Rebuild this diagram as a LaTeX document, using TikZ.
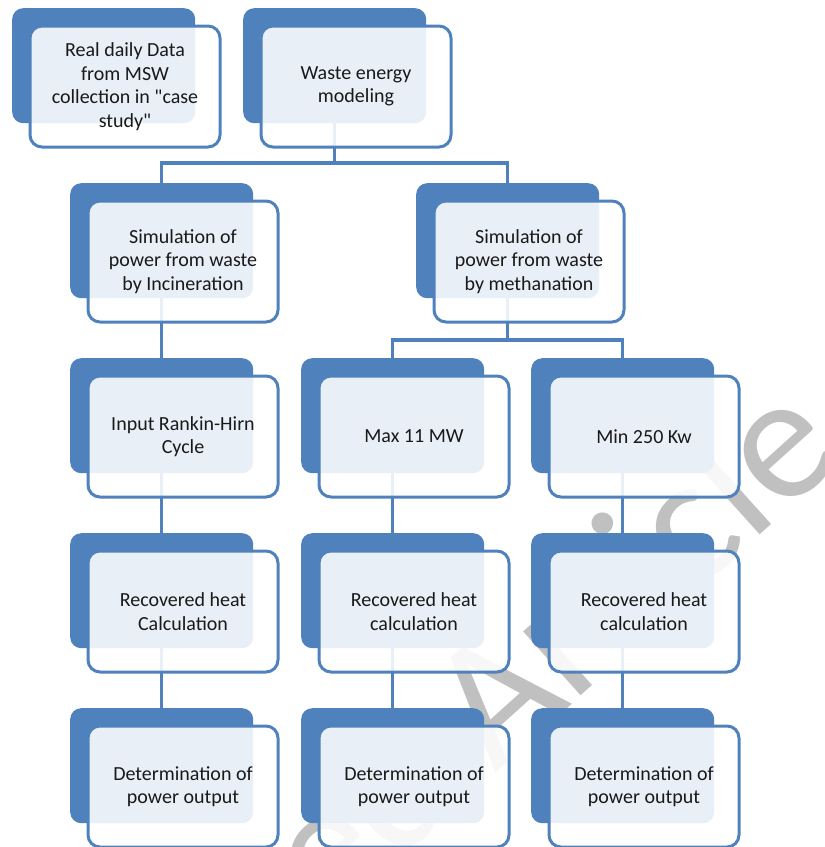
\documentclass[tikz,border=0pt]{standalone}
\usepackage{fontspec}
\setmainfont{Carlito}[Ligatures=TeXOff]
\definecolor{wblue}{HTML}{4F81BD}
\definecolor{wmgray}{HTML}{C0C0C0}
\tikzset{
  backbox/.style={draw=none, fill=wblue, rounded corners=11pt, minimum width=183pt, minimum height=115pt, inner sep=0pt, anchor=north west},
  frontbox/.style={draw=wblue, line width=3pt, fill=white, fill opacity=0.875, text opacity=1, rounded corners=12pt, minimum width=190pt, minimum height=121pt, inner sep=2pt, anchor=north west, align=center, font=\fontsize{20}{23.5}\selectfont, text=black!90},
  link/.style={draw=wblue, line width=3.5pt},
}
\newcommand\flowbox[3]{%
  \node[backbox] (#1-b) at (#2,#3) {};
  \path (#2,#3) ++(16.5,16.5) coordinate (#1-c);
}
\newcommand\flowfront[2]{%
  \node[frontbox] (#1) at (#1-c) {#2};
}
\begin{document}
\begin{tikzpicture}[x=1pt,y=-1pt]
\useasboundingbox (0,0) rectangle (825,847);
% watermark
\node[font=\fontsize{180}{180}\selectfont, text=wmgray, rotate=42, anchor=base east, inner sep=0pt] (wm) at (848,456) {Accepted Article};
% back boxes
\flowbox{data}{12}{8}
\flowbox{wem}{243}{8}
\flowbox{inc}{70}{183}
\flowbox{met}{416}{183}
\flowbox{ran}{70}{358}
\flowbox{max}{301}{358}
\flowbox{min}{531}{358}
\flowbox{reca}{70}{533}
\flowbox{recb}{301}{533}
\flowbox{recc}{531}{533}
\flowbox{deta}{70}{708}
\flowbox{detb}{301}{708}
\flowbox{detc}{531}{708}
% connectors
\coordinate (j1) at (wem-b.south |- 0,163);
\coordinate (j2) at (met-b.south |- 0,340);
\draw[link] (wem-b.south) -- (j1);
\draw[link] (j1) -| (inc-b.north);
\draw[link] (j1) -| (met-b.north);
\draw[link] (met-b.south) -- (j2);
\draw[link] (j2) -| (max-b.north);
\draw[link] (j2) -| (min-b.north);
\draw[link] (inc-b.south) -- (ran-b.north);
\draw[link] (ran-b.south) -- (reca-b.north);
\draw[link] (max-b.south) -- (recb-b.north);
\draw[link] (min-b.south) -- (recc-b.north);
\draw[link] (reca-b.south) -- (deta-b.north);
\draw[link] (recb-b.south) -- (detb-b.north);
\draw[link] (recc-b.south) -- (detc-b.north);
% front boxes
\flowfront{data}{Real daily Data\\from MSW\\collection in "case\\study"}
\flowfront{wem}{Waste energy\\modeling}
\flowfront{inc}{Simulation of\\power from waste\\by Incineration}
\flowfront{met}{Simulation of\\power from waste\\by methanation}
\flowfront{ran}{Input Rankin-Hirn\\Cycle}
\flowfront{max}{Max 11 MW}
\flowfront{min}{Min 250 Kw}
\flowfront{reca}{Recovered heat\\Calculation}
\flowfront{recb}{Recovered heat\\calculation}
\flowfront{recc}{Recovered heat\\calculation}
\flowfront{deta}{Determination of\\power output}
\flowfront{detb}{Determination of\\power output}
\flowfront{detc}{Determination of\\power output}
\end{tikzpicture}
\end{document}
